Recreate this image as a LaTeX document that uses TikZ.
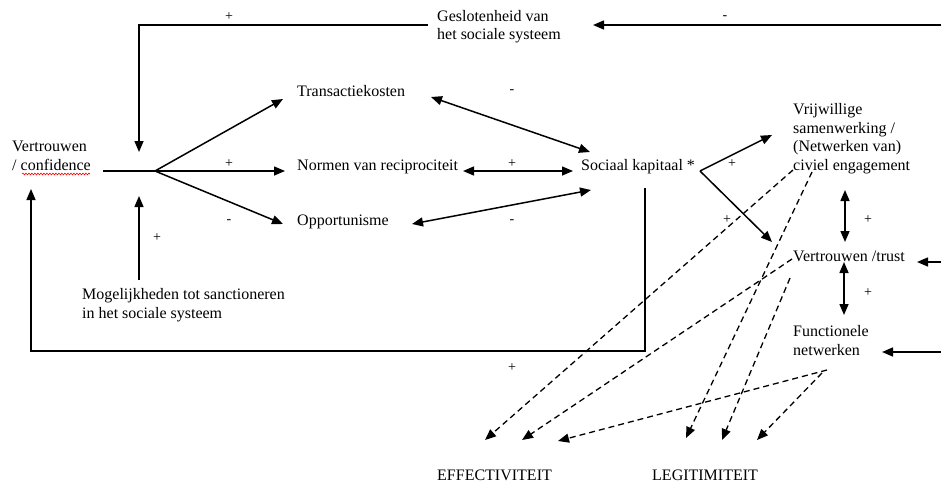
\documentclass[tikz,border=0pt]{standalone}
\usepackage{fontspec}
\setmainfont{Liberation Serif}
\usetikzlibrary{arrows.meta,decorations.pathmorphing}
\begin{document}
\begin{tikzpicture}[x=1pt,y=-1pt,
  lbl/.style={inner sep=0pt, anchor=base west, align=left, font=\fontsize{16}{18.5}\selectfont},
  sgn/.style={inner sep=0pt, font=\fontsize{14}{14}\selectfont},
  ln/.style={line width=1.5pt},
  arr/.style={ln, -{Triangle[length=11pt,width=9pt]}},
  biarr/.style={ln, {Triangle[length=11pt,width=9pt]}-{Triangle[length=11pt,width=9pt]}},
  darr/.style={line width=1.3pt, dash pattern=on 6pt off 4pt, -{Triangle[length=11pt,width=9pt]}}]
\path[use as bounding box] (0,0) rectangle (941,487);

% text nodes (base = baseline of last line)
\node[lbl] (geslo) at (437,40) {Geslotenheid van\\het sociale systeem};
\node[lbl] (vconf) at (12,170) {Vertrouwen\\/ confidence};
\node[lbl] (trans) at (297,96) {Transactiekosten};
\node[lbl] (normen) at (297,170) {Normen van reciprociteit};
\node[lbl] (oppo) at (297,225) {Opportunisme};
\node[lbl] (mogel) at (82,318) {Mogelijkheden tot sanctioneren\\in het sociale systeem};
\node[lbl] (sociaal) at (581,170) {Sociaal kapitaal *};
\node[lbl] (vrij) at (793,170) {Vrijwillige\\samenwerking /\\(Netwerken van)\\civiel engagement};
\node[lbl] (vtrust) at (793,261) {Vertrouwen /trust};
\node[lbl] (func) at (793,355) {Functionele\\netwerken};
\node[lbl] (eff) at (437,480) {EFFECTIVITEIT};
\node[lbl] (leg) at (652,480) {LEGITIMITEIT};

% spelling underline
\coordinate (ul1) at (22,174);
\coordinate (ul2) at (90,174);
\draw[red, line width=0.6pt, decorate, decoration={snake, amplitude=0.9pt, segment length=3pt}] (ul1) -- (ul2);

% coordinates
\coordinate (gL) at (428,25);
\coordinate (gC) at (139,25);
\coordinate (gT) at (139,152);
\coordinate (rTop) at (941,25);
\coordinate (rTopT) at (593,25);
\coordinate (vS) at (103,171);
\coordinate (vJ) at (155,171);
\coordinate (tT) at (283,99);
\coordinate (nT) at (285,171);
\coordinate (oT) at (283,224);
\coordinate (mS) at (139,280);
\coordinate (mT) at (139,196);
\coordinate (fb1) at (645,188);
\coordinate (fb2) at (645,351);
\coordinate (fb3) at (31,351);
\coordinate (fbT) at (31,189);
\coordinate (tsA) at (431,97);
\coordinate (tsB) at (590,152);
\coordinate (nsA) at (463,171);
\coordinate (nsB) at (573,171);
\coordinate (osA) at (412,224);
\coordinate (osB) at (591,190);
\coordinate (sJ) at (700,171);
\coordinate (vrT) at (772,135);
\coordinate (vtT) at (772,242);
\coordinate (b1A) at (845,190);
\coordinate (b1B) at (845,242);
\coordinate (b2A) at (844,262);
\coordinate (b2B) at (844,315);
\coordinate (rTr) at (941,262);
\coordinate (rTrT) at (917,262);
\coordinate (rFn) at (941,352);
\coordinate (rFnT) at (882,352);

% solid connectors
\draw[arr] (gL) -- (gC) -- (gT);
\draw[arr] (rTop) -- (rTopT);
\draw[arr] (vS) -- (nT);
\draw[arr] (vJ) -- (tT);
\draw[arr] (vJ) -- (oT);
\draw[arr] (mS) -- (mT);
\draw[arr] (fb1) -- (fb2) -- (fb3) -- (fbT);
\draw[biarr] (tsA) -- (tsB);
\draw[biarr] (nsA) -- (nsB);
\draw[biarr] (osA) -- (osB);
\draw[arr] (sJ) -- (vrT);
\draw[arr] (sJ) -- (vtT);
\draw[biarr] (b1A) -- (b1B);
\draw[biarr] (b2A) -- (b2B);
\draw[arr] (rTr) -- (rTrT);
\draw[arr] (rFn) -- (rFnT);

% dashed connectors
\coordinate (d1S) at (793,170);
\coordinate (d1T) at (485,440);
\coordinate (d2S) at (812,172);
\coordinate (d2T) at (686,438);
\coordinate (d3S) at (792,259);
\coordinate (d3T) at (522,440);
\coordinate (d4S) at (790,278);
\coordinate (d4T) at (722,440);
\coordinate (d5S) at (827,370);
\coordinate (d5T) at (558,441);
\coordinate (d6S) at (822,373);
\coordinate (d6T) at (757,440);
\draw[darr] (d1S) -- (d1T);
\draw[darr] (d2S) -- (d2T);
\draw[darr] (d3S) -- (d3T);
\draw[darr] (d4S) -- (d4T);
\draw[darr] (d5S) -- (d5T);
\draw[darr] (d6S) -- (d6T);

% signs
\node[sgn] (s1) at (229,17) {+};
\node[sgn] (s2) at (725,18) {-};
\node[sgn] (s3) at (229,164) {+};
\node[sgn] (s4) at (229,222) {-};
\node[sgn] (s5) at (157,238) {+};
\node[sgn] (s6) at (512,92) {-};
\node[sgn] (s7) at (512,164) {+};
\node[sgn] (s8) at (512,222) {-};
\node[sgn] (s9) at (732,164) {+};
\node[sgn] (s10) at (727,220) {+};
\node[sgn] (s11) at (868,220) {+};
\node[sgn] (s12) at (868,293) {+};
\node[sgn] (s13) at (512,368) {+};
\end{tikzpicture}
\end{document}
